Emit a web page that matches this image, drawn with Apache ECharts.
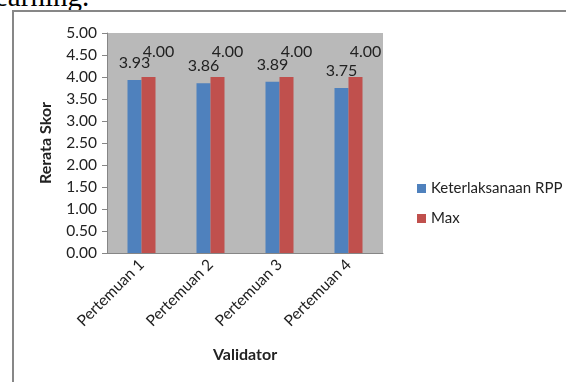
<!DOCTYPE html>
<html lang="id">
<head>
    <meta charset="UTF-8">
    <title>Keterlaksanaan RPP</title>
    <script src="https://cdn.jsdelivr.net/npm/echarts@6/dist/echarts.min.js"></script>
    <style>
        html, body {
            margin: 0;
            padding: 0;
            background: #fff;
            overflow: hidden;
        }
        #page {
            position: relative;
            width: 566px;
            height: 382px;
            overflow: hidden;
        }
        /* sisa teks dokumen di atas grafik */
        #cut {
            position: absolute;
            left: -5px;
            top: -20px;
            font-family: "Liberation Serif", serif;
            font-size: 29px;
            color: #000;
            white-space: nowrap;
        }
        #frame {
            position: absolute;
            left: 12px;
            top: 10px;
            width: 560px;
            height: 380px;
            border-left: 2px solid #878787;
            border-top: 2px solid #878787;
        }
        #chart {
            position: absolute;
            left: 0;
            top: 0;
            width: 566px;
            height: 382px;
        }
    </style>
</head>
<body>
<div id="page">
    <div id="cut">earning.</div>
    <div id="frame"></div>
    <div id="chart"></div>
</div>

<script>
    var categories = ['Pertemuan 1', 'Pertemuan 2', 'Pertemuan 3', 'Pertemuan 4'];
    var rppValues = [3.93, 3.86, 3.89, 3.75];
    var maxValues = [4.00, 4.00, 4.00, 4.00];
    var seriesNames = ['Keterlaksanaan RPP', 'Max'];

    var font = 'Lato, "Open Sans", sans-serif';
    var chart = echarts.init(document.getElementById('chart'));

    var option = {
        animation: false,
        textStyle: { fontFamily: font },
        grid: {
            left: 107,
            right: 183,
            top: 33,
            bottom: 129,
            show: true,
            backgroundColor: '#b9b9b9',
            borderWidth: 0
        },
        legend: {
            orient: 'vertical',
            left: 412,
            top: 176,
            itemWidth: 9,
            itemHeight: 9,
            itemGap: 15,
            icon: 'rect',
            textStyle: { fontSize: 15, color: '#222', fontFamily: font },
            data: seriesNames
        },
        xAxis: {
            type: 'category',
            data: categories,
            name: 'Validator',
            nameLocation: 'middle',
            nameGap: 94,
            nameTextStyle: { fontSize: 16, fontWeight: 'bold', color: '#222', fontFamily: font },
            axisLine: { lineStyle: { color: '#868686' } },
            axisTick: { show: false },
            axisLabel: {
                rotate: 45,
                margin: 9,
                fontSize: 15.5,
                color: '#222',
                fontFamily: font
            }
        },
        yAxis: {
            type: 'value',
            min: 0,
            max: 5,
            interval: 0.5,
            name: 'Rerata Skor',
            nameLocation: 'middle',
            nameGap: 53,
            nameTextStyle: { fontSize: 16, fontWeight: 'bold', color: '#222', fontFamily: font },
            axisLine: { show: true, lineStyle: { color: '#868686' } },
            axisTick: { show: true, length: 5, lineStyle: { color: '#868686' } },
            splitLine: { show: false },
            axisLabel: {
                margin: 10,
                fontSize: 15.5,
                color: '#222',
                fontFamily: font,
                formatter: function (v) { return v.toFixed(2); }
            }
        },
        series: [
            {
                name: seriesNames[0],
                type: 'bar',
                data: rppValues,
                barWidth: 14,
                barGap: '0%',
                itemStyle: { color: '#4f81bd' },
                label: {
                    show: true,
                    position: 'top',
                    distance: 9,
                    fontSize: 16,
                    color: '#222',
                    formatter: function (p) { return p.value.toFixed(2); }
                }
            },
            {
                name: seriesNames[1],
                type: 'bar',
                data: maxValues,
                barWidth: 14,
                itemStyle: { color: '#c0504d' },
                label: {
                    show: true,
                    position: 'top',
                    distance: 17,
                    offset: [10, 0],
                    fontSize: 16,
                    color: '#222',
                    formatter: function (p) { return p.value.toFixed(2); }
                }
            }
        ]
    };

    chart.setOption(option);
</script>
</body>
</html>
